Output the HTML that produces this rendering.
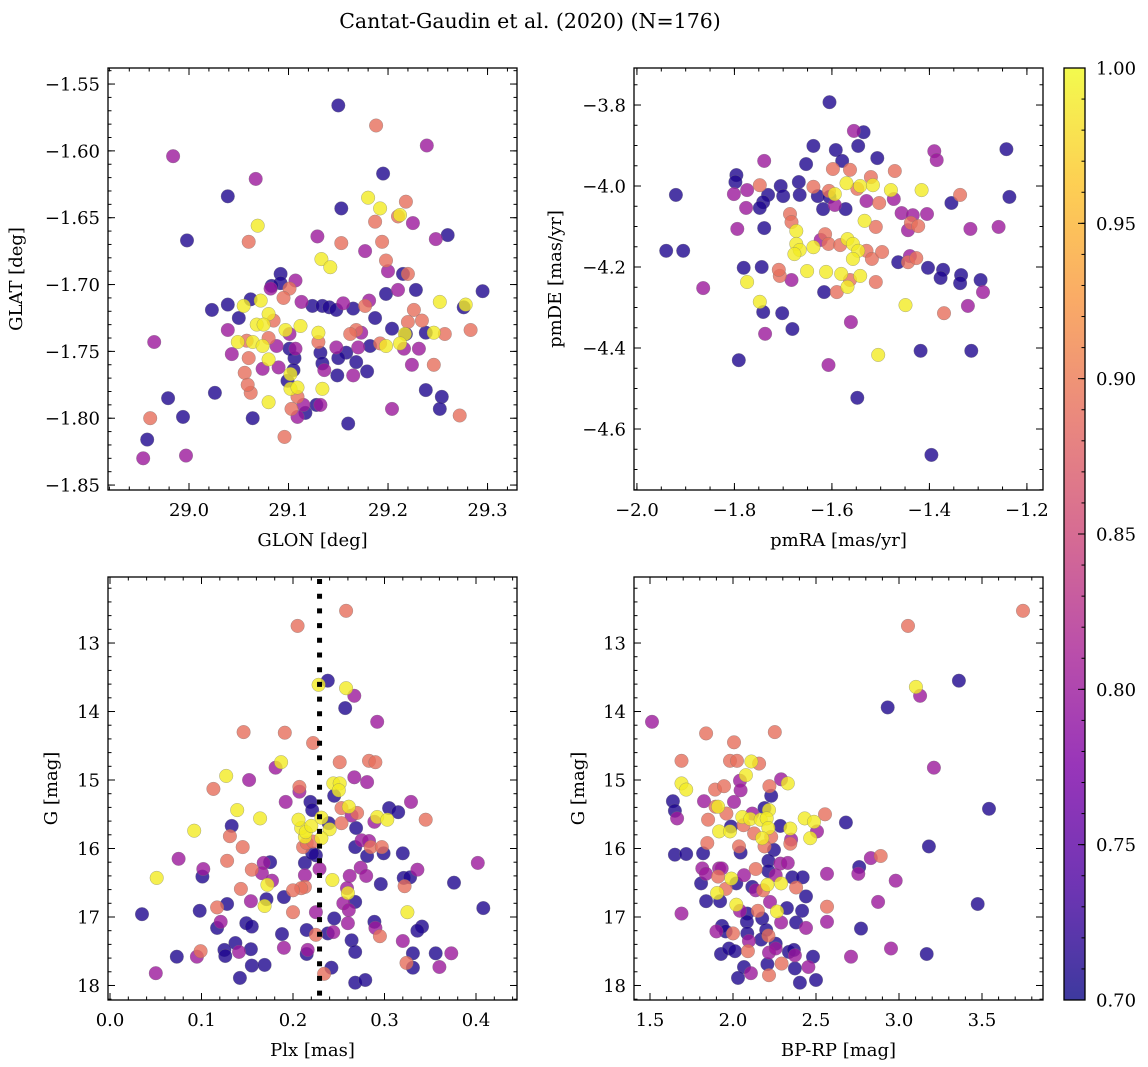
<!DOCTYPE html>
<html><head><meta charset="utf-8"><style>
html,body{margin:0;padding:0;background:#fff;}
svg{display:block;font-family:"DejaVu Serif","Liberation Serif",serif;}
</style></head><body>
<svg id="fig" width="1148" height="1067" viewBox="0 0 1148 1067" xmlns="http://www.w3.org/2000/svg">
<defs>
<linearGradient id="plasmaGrad" x1="0" y1="1" x2="0" y2="0">
<stop offset="0" stop-color="#0d0887"/><stop offset="0.125" stop-color="#4c02a1"/><stop offset="0.25" stop-color="#7e03a8"/><stop offset="0.375" stop-color="#a92395"/><stop offset="0.5" stop-color="#cc4778"/><stop offset="0.625" stop-color="#e56b5d"/><stop offset="0.75" stop-color="#f89540"/><stop offset="0.875" stop-color="#fdc328"/><stop offset="1" stop-color="#f0f921"/>
</linearGradient>
</defs>
<text x="530" y="28" text-anchor="middle" font-size="20.5">Cantat-Gaudin et al. (2020) (N=176)</text>
</svg>
<script>
// ---------- Panel 1: GLON vs GLAT ----------
const glon = [29.150,29.188,29.239,28.984,29.195,29.067,29.180,29.153,29.192,29.210,
29.069,29.129,29.187,29.212,29.218,29.225,29.260,29.248,29.153,29.194,
29.039,28.998,29.060,29.133,29.142,29.177,29.198,29.200,29.215,29.220,
29.092,29.092,29.083,29.101,29.107,29.082,29.095,29.113,29.124,29.134,
29.141,29.148,29.155,29.165,29.177,29.181,29.198,29.210,29.228,29.252,
29.276,29.295,29.278,29.226,29.023,29.039,29.055,29.050,29.062,29.072,
29.080,29.068,29.075,29.085,29.097,29.101,29.112,29.130,29.130,29.039,
29.080,29.058,29.049,29.064,29.074,29.088,29.101,29.107,29.060,29.080,
29.074,29.056,29.043,29.132,29.168,29.162,29.173,29.187,29.192,29.204,
29.220,29.234,29.217,29.238,29.257,29.283,29.212,29.218,29.246,29.148,
29.158,29.170,29.182,29.198,29.216,29.231,29.150,29.168,29.179,29.165,
29.149,29.224,29.246,29.134,29.136,29.106,29.105,29.099,29.102,29.109,
29.109,29.115,29.090,29.102,29.134,29.128,29.132,29.117,29.109,29.062,
29.059,29.080,29.103,29.160,29.204,29.238,29.254,29.252,29.272,
28.961,28.958,28.954,28.997,28.994,28.979,28.965,29.026,29.064,29.096];
const glat = [-1.566,-1.581,-1.596,-1.604,-1.617,-1.621,-1.635,-1.643,-1.643,-1.649,
-1.656,-1.664,-1.653,-1.648,-1.638,-1.654,-1.663,-1.666,-1.669,-1.668,
-1.634,-1.667,-1.668,-1.681,-1.687,-1.675,-1.682,-1.690,-1.692,-1.692,
-1.692,-1.699,-1.701,-1.703,-1.697,-1.703,-1.710,-1.713,-1.716,-1.716,
-1.717,-1.719,-1.714,-1.718,-1.716,-1.712,-1.707,-1.704,-1.704,-1.713,
-1.717,-1.705,-1.715,-1.719,-1.719,-1.715,-1.716,-1.725,-1.711,-1.712,
-1.722,-1.730,-1.730,-1.727,-1.734,-1.737,-1.731,-1.736,-1.743,-1.734,
-1.740,-1.742,-1.743,-1.743,-1.746,-1.746,-1.748,-1.748,-1.755,-1.756,
-1.763,-1.766,-1.752,-1.751,-1.734,-1.737,-1.736,-1.725,-1.744,-1.733,
-1.728,-1.727,-1.737,-1.736,-1.737,-1.734,-1.744,-1.737,-1.736,-1.747,
-1.751,-1.747,-1.746,-1.746,-1.748,-1.748,-1.755,-1.758,-1.765,-1.768,
-1.768,-1.760,-1.760,-1.759,-1.764,-1.755,-1.764,-1.772,-1.778,-1.777,
-1.784,-1.790,-1.762,-1.767,-1.778,-1.790,-1.790,-1.796,-1.799,-1.781,
-1.775,-1.788,-1.793,-1.804,-1.793,-1.779,-1.784,-1.793,-1.798,
-1.800,-1.816,-1.830,-1.828,-1.799,-1.785,-1.743,-1.781,-1.800,-1.814];
const prob1 = [.71,.89,.80,.80,.71,.80,.99,.71,.99,.89,
.99,.80,.89,.99,.89,.80,.71,.80,.89,.89,
.71,.71,.89,.99,.99,.80,.89,.80,.71,.89,
.71,.71,.71,.89,.80,.80,.89,.80,.71,.71,
.71,.71,.80,.71,.89,.80,.71,.80,.71,.99,
.71,.71,.99,.89,.71,.71,.99,.71,.71,.99,
.99,.99,.99,.89,.99,.80,.99,.99,.89,.80,
.89,.89,.99,.99,.99,.80,.71,.80,.89,.99,
.80,.89,.80,.71,.89,.89,.80,.71,.89,.71,
.89,.89,.99,.71,.89,.89,.99,.71,.99,.80,
.71,.80,.71,.99,.80,.80,.71,.71,.71,.80,
.71,.80,.89,.71,.80,.71,.71,.71,.99,.99,
.89,.80,.80,.99,.99,.71,.80,.71,.80,.89,
.89,.99,.89,.71,.80,.71,.71,.71,.89,
.89,.71,.80,.80,.71,.71,.80,.71,.71,.89];

// ---------- Panel 2: pmRA vs pmDE ----------
const pmra = [-1.605,-1.242,-1.638,-1.555,-1.535,-1.592,-1.546,-1.507,-1.579,-1.390,
-1.385,-1.739,-1.653,-1.598,-1.563,-1.520,-1.471,-1.236,-1.542,-1.570,
-1.516,-1.479,-1.548,-1.606,-1.638,-1.668,-1.666,-1.705,-1.748,-1.774,
-1.796,-1.798,-1.731,-1.741,-1.748,-1.700,-1.776,-1.801,-1.629,-1.594,
-1.605,-1.594,-1.618,-1.572,-1.529,-1.503,-1.473,-1.416,-1.457,-1.434,
-1.405,-1.337,-1.355,-1.438,-1.423,-1.444,-1.533,-1.510,-1.316,-1.258,
-1.794,-1.739,-1.686,-1.683,-1.673,-1.673,-1.666,-1.677,-1.638,-1.623,
-1.614,-1.607,-1.583,-1.568,-1.557,-1.546,-1.557,-1.529,-1.518,-1.497,
-1.464,-1.440,-1.444,-1.427,-1.403,-1.372,-1.335,-1.295,-1.337,-1.290,
-1.377,-1.781,-1.744,-1.707,-1.683,-1.709,-1.651,-1.612,-1.581,-1.568,
-1.563,-1.616,-1.590,-1.510,-1.542,-1.774,-1.748,-1.741,-1.702,-1.864,
-1.791,-1.737,-1.681,-1.561,-1.505,-1.449,-1.370,-1.321,-1.418,-1.314,
-1.607,-1.548,-1.396,-1.940,-1.905,-1.920];
const pmde = [-3.793,-3.909,-3.901,-3.864,-3.867,-3.911,-3.901,-3.931,-3.938,-3.914,
-3.936,-3.938,-3.946,-3.958,-3.960,-3.978,-3.963,-4.027,-4.000,-3.993,
-3.998,-4.010,-4.007,-4.012,-4.002,-3.990,-4.022,-4.000,-3.998,-4.010,
-3.973,-3.990,-4.022,-4.040,-4.054,-4.025,-4.054,-4.020,-4.025,-4.020,
-4.027,-4.047,-4.057,-4.057,-4.037,-4.042,-4.032,-4.010,-4.067,-4.072,
-4.069,-4.022,-4.042,-4.091,-4.099,-4.109,-4.086,-4.101,-4.106,-4.101,
-4.106,-4.104,-4.069,-4.089,-4.111,-4.143,-4.158,-4.168,-4.151,-4.133,
-4.119,-4.143,-4.146,-4.131,-4.143,-4.160,-4.180,-4.160,-4.180,-4.163,
-4.188,-4.173,-4.188,-4.178,-4.202,-4.207,-4.220,-4.232,-4.240,-4.262,
-4.227,-4.202,-4.200,-4.222,-4.232,-4.207,-4.210,-4.212,-4.217,-4.249,
-4.232,-4.262,-4.262,-4.237,-4.222,-4.237,-4.286,-4.311,-4.314,-4.252,
-4.430,-4.365,-4.353,-4.336,-4.417,-4.294,-4.314,-4.296,-4.407,-4.407,
-4.442,-4.523,-4.664,-4.160,-4.160,-4.022];
const prob2 = [.71,.71,.71,.80,.71,.71,.71,.71,.71,.80,
.80,.80,.71,.89,.89,.89,.89,.71,.99,.99,
.99,.99,.89,.89,.89,.71,.71,.71,.89,.80,
.71,.71,.71,.71,.71,.71,.80,.80,.71,.99,
.71,.80,.71,.71,.80,.89,.80,.99,.80,.80,
.80,.89,.71,.89,.89,.80,.99,.89,.80,.80,
.80,.71,.89,.89,.99,.99,.99,.99,.99,.80,
.89,.89,.89,.99,.99,.99,.99,.89,.89,.89,
.71,.80,.89,.89,.71,.71,.71,.71,.71,.80,
.71,.71,.71,.89,.80,.89,.99,.99,.99,.99,
.89,.71,.89,.89,.99,.99,.99,.71,.71,.80,
.71,.80,.71,.80,.99,.99,.89,.80,.71,.71,
.80,.71,.71,.71,.71,.71];

// ---------- Panel 3: Plx vs G ----------
const plx = [.146,.191,.222,.187,.181,.127,.152,.113,.207,.207,
.219,.221,.192,.139,.164,.092,.133,.131,.145,.075,
.128,.175,.168,.102,.101,.155,.166,.051,.172,.177,
.143,.190,.171,.169,.154,.128,.098,.117,.035,.200,
.121,.149,.155,.117,.188,.215,.225,.137,.154,.125,
.141,.099,.126,.190,.216,.215,.073,.095,.155,.169,
.050,.142,.225,.213,.209,.200,.213,.213,.225,.229,
.211,.213,.209,.214,.206,.220,.231,.215,.222,.221,
.234,.205,
.258,.238,.228,.258,.267,.257,.292,.251,.283,.290,
.267,.281,.244,.251,.250,.245,.329,.261,.253,.270,
.264,.305,.315,.292,.289,.303,.345,.253,.239,.240,
.269,.231,.275,.283,.268,.285,.297,.281,.299,.320,
.402,.336,.274,.262,.280,.321,.328,.296,.376,.322,
.243,.259,.260,.268,.255,.261,.408,.325,.245,.260,
.289,.290,.244,.238,.295,.341,.336,.320,.264,.268,
.331,.356,.373,.324,.331,.360,.242,.268,.279];
const gmag3 = [14.30,14.31,14.46,14.74,14.82,14.94,15.00,15.13,15.10,15.17,
15.32,15.44,15.32,15.44,15.56,15.74,15.67,15.82,15.98,16.15,
16.18,16.20,16.21,16.30,16.41,16.31,16.36,16.43,16.53,16.47,
16.59,16.71,16.74,16.84,16.77,16.81,16.91,16.86,16.96,16.93,
17.07,17.09,17.14,17.16,17.25,17.19,17.26,17.38,17.47,17.48,
17.51,17.50,17.57,17.45,17.48,17.54,17.58,17.58,17.71,17.70,
17.82,17.89,16.93,16.56,16.58,16.61,16.39,16.21,16.10,16.30,
15.98,15.83,15.70,15.76,15.58,15.67,15.55,15.92,15.90,16.07,
17.83,12.75,
12.53,13.55,13.61,13.66,13.77,13.95,14.15,14.74,14.72,14.74,
14.96,15.03,15.05,15.05,15.15,15.23,15.32,15.39,15.41,15.48,
15.52,15.41,15.47,15.54,15.61,15.58,15.58,15.63,15.63,15.72,
15.70,15.85,15.88,15.89,15.98,15.98,15.98,16.11,16.07,16.07,
16.21,16.31,16.28,16.40,16.40,16.43,16.42,16.52,16.50,16.55,
16.46,16.58,16.65,16.78,16.80,16.90,16.87,16.93,17.02,17.09,
17.07,17.16,17.22,17.24,17.28,17.14,17.20,17.35,17.34,17.51,
17.53,17.53,17.53,17.67,17.74,17.73,17.74,17.96,17.92];
const prob3 = [.89,.89,.89,.99,.80,.99,.80,.89,.89,.80,
.71,.71,.80,.99,.99,.99,.71,.89,.89,.80,
.89,.71,.80,.80,.71,.89,.80,.99,.99,.80,
.89,.71,.71,.99,.80,.71,.71,.89,.71,.89,
.80,.71,.71,.71,.71,.71,.89,.71,.71,.71,
.80,.89,.71,.80,.80,.71,.71,.80,.71,.71,
.80,.71,.80,.89,.89,.89,.80,.71,.71,.80,
.89,.99,.99,.99,.99,.99,.99,.89,.89,.71,
.89,.89,
.89,.71,.99,.99,.80,.71,.80,.89,.89,.89,
.80,.80,.99,.99,.99,.71,.80,.99,.89,.89,
.80,.71,.71,.99,.80,.99,.89,.89,.71,.99,
.71,.99,.80,.80,.71,.89,.89,.71,.71,.71,
.80,.80,.80,.80,.80,.71,.71,.71,.71,.89,
.99,.80,.99,.71,.80,.80,.71,.99,.71,.80,
.71,.80,.80,.71,.89,.71,.71,.80,.71,.71,
.71,.71,.80,.89,.71,.80,.71,.71,.71];

// ---------- Panel 4: BP-RP vs G ----------
const bprp = [1.512,1.838,2.252,2.006,1.690,1.982,2.024,2.110,2.157,2.078,
2.042,2.046,1.690,1.718,1.892,1.946,2.290,2.330,2.219,2.230,
1.638,1.650,1.663,1.825,2.006,1.910,1.895,1.960,1.850,2.190,
2.217,2.056,2.104,2.167,2.203,2.116,2.213,1.988,1.916,1.982,
2.063,2.285,2.345,2.432,2.488,2.554,2.680,2.506,2.465,2.127,
2.176,2.230,2.350,2.345,1.845,2.036,2.046,2.190,2.247,1.650,
1.718,1.820,2.213,2.285,2.330,2.760,2.566,2.755,1.815,1.837,
1.916,1.932,1.910,1.990,2.020,2.066,2.137,2.213,2.257,2.357,
2.420,1.808,1.904,1.956,2.116,2.137,2.182,2.207,2.290,2.380,
2.440,1.838,1.922,2.020,2.042,2.223,2.265,2.325,2.416,2.566,
2.566,1.690,2.086,2.084,2.150,2.176,2.290,2.380,2.440,1.900,
1.934,1.956,2.000,2.086,2.096,2.170,2.200,2.213,2.257,1.928,
1.976,2.012,2.090,2.217,2.257,2.337,2.367,2.373,2.482,2.711,
2.207,2.293,2.454,2.066,2.108,2.030,2.217,2.373,2.403,2.500,
3.747,3.054,3.361,3.102,3.127,2.932,3.210,3.542,3.180,2.890,
2.830,2.980,2.874,3.474,2.771,2.952,3.167];
const gmag4 = [14.15,14.32,14.30,14.45,14.72,14.72,14.72,14.73,14.76,14.93,
15.01,15.15,15.05,15.14,15.14,15.09,14.99,15.05,15.09,15.23,
15.31,15.45,15.56,15.31,15.32,15.39,15.39,15.49,15.58,15.41,
15.44,15.54,15.57,15.58,15.56,15.49,15.70,15.68,15.75,15.75,
15.66,15.67,15.71,15.56,15.61,15.50,15.62,15.75,15.85,15.78,
15.85,15.83,15.87,15.93,15.92,15.97,16.06,15.97,16.02,16.09,
16.08,16.07,16.18,16.22,16.21,16.27,16.37,16.37,16.29,16.37,
16.29,16.29,16.41,16.44,16.51,16.39,16.30,16.33,16.39,16.42,
16.42,16.51,16.65,16.59,16.56,16.61,16.61,16.53,16.51,16.57,
16.70,16.77,16.77,16.82,16.91,16.78,16.92,16.87,16.91,16.85,
17.07,16.95,16.95,17.07,16.91,17.02,17.08,17.08,17.16,17.21,
17.13,17.21,17.24,17.24,17.35,17.33,17.19,17.27,17.39,17.54,
17.46,17.50,17.50,17.52,17.46,17.51,17.48,17.56,17.58,17.58,
17.69,17.68,17.73,17.73,17.82,17.89,17.85,17.75,17.96,17.92,
12.53,12.75,13.55,13.64,13.77,13.94,14.82,15.42,15.97,16.11,
16.14,16.47,16.78,16.81,17.17,17.46,17.54];
const prob4 = [.80,.89,.89,.89,.89,.89,.89,.99,.89,.99,
.80,.80,.99,.99,.89,.89,.80,.99,.89,.71,
.71,.71,.80,.80,.80,.99,.89,.89,.89,.71,
.99,.99,.99,.99,.99,.80,.99,.71,.99,.99,
.89,.71,.99,.99,.99,.89,.71,.80,.99,.89,
.99,.89,.80,.89,.89,.89,.71,.89,.71,.71,
.71,.71,.71,.80,.80,.71,.80,.80,.80,.80,
.80,.80,.89,.99,.71,.80,.89,.71,.80,.71,
.71,.71,.99,.89,.71,.80,.89,.99,.99,.89,
.71,.71,.71,.99,.80,.80,.99,.71,.71,.89,
.80,.80,.71,.71,.89,.71,.80,.71,.80,.80,
.71,.71,.89,.71,.80,.71,.71,.89,.71,.71,
.71,.71,.89,.80,.80,.71,.71,.80,.71,.80,
.71,.89,.80,.71,.80,.71,.89,.71,.71,.71,
.89,.89,.71,.99,.80,.71,.80,.71,.71,.89,
.80,.80,.80,.71,.71,.80,.71];

// ---------- Axis tick values ----------
const p1XTicks = [29.0,29.1,29.2,29.3];
const p1YTicks = [-1.55,-1.60,-1.65,-1.70,-1.75,-1.80,-1.85];
const p2XTicks = [-2.0,-1.8,-1.6,-1.4,-1.2];
const p2YTicks = [-3.8,-4.0,-4.2,-4.4,-4.6];
const p3XTicks = [0.0,0.1,0.2,0.3,0.4];
const gTicks = [13,14,15,16,17,18];
const p4XTicks = [1.5,2.0,2.5,3.0,3.5];
const cbTicks = [0.70,0.75,0.80,0.85,0.90,0.95,1.00];
const plxCut = [0.229];
const cbRange = [0.70,1.00];

const NS = "http://www.w3.org/2000/svg";
const svg = document.getElementById('fig');
function mk(tag, attrs, parent){
  const e = document.createElementNS(NS, tag);
  for (const k in attrs) e.setAttribute(k, attrs[k]);
  (parent||svg).appendChild(e);
  return e;
}
const stops = [[0,[13,8,135]],[0.125,[76,2,161]],[0.25,[126,3,168]],[0.375,[169,35,149]],[0.5,[204,71,120]],[0.625,[229,107,93]],[0.75,[248,149,64]],[0.875,[253,195,40]],[1,[240,249,33]]];
function plasma(t){
  t = Math.max(0, Math.min(1, t));
  for (let i=0;i<stops.length-1;i++){
    const a=stops[i], b=stops[i+1];
    if (t<=b[0]){
      const f=(t-a[0])/(b[0]-a[0]);
      const c=a[1].map((v,j)=>Math.round(v+(b[1][j]-v)*f));
      return 'rgb('+c.join(',')+')';
    }
  }
  return 'rgb(240,249,33)';
}
function lin(d0,d1,r0,r1){ return v => r0 + (v-d0)/(d1-d0)*(r1-r0); }
function fmt(v, dec){ const s = Math.abs(v).toFixed(dec); return (v<0?'\u2212':'')+s; }
const FS = 18;

function panel(o){
  const g = mk('g', {});
  
  
  const sx = lin(o.xd[0], o.xd[1], o.box[0], o.box[2]);
  const sy = lin(o.yd[0], o.yd[1], o.box[1], o.box[3]);
  const cid = 'clip-' + o.name;
  const cp = mk('clipPath', {id: cid}, g);
  mk('rect', {x:o.box[0], y:o.box[1], width:o.box[2]-o.box[0], height:o.box[3]-o.box[1]}, cp);
  const pts = mk('g', {'clip-path':'url(#'+cid+')'}, g);
  
  
  const idx = o.x.map((_,i)=>i).sort((a,b)=>o.c[a]-o.c[b]);
  for (const i of idx){
    const c = mk('circle', {cx:sx(o.x[i]).toFixed(1), cy:sy(o.y[i]).toFixed(1), r:6.8, fill:plasma((o.c[i]-cbRange[0])/(cbRange[1]-cbRange[0])), 'fill-opacity':0.8, stroke:'#777', 'stroke-opacity':0.6, 'stroke-width':0.5}, pts);
    
    
  }
  if (o.extra) o.extra(g, sx, sy);
  const [x0,y0,x1,y1] = o.box;
  const tk = mk('g', {stroke:'#000', 'stroke-width':1}, g);
  
  
  const xlo = Math.min(o.xd[0],o.xd[1]), xhi = Math.max(o.xd[0],o.xd[1]);
  for (let v=Math.ceil(xlo/o.xm-1e-6)*o.xm; v<=xhi+1e-9; v+=o.xm){
    const X = sx(v);
    mk('line',{x1:X,y1:y1,x2:X,y2:y1-3.5},tk); mk('line',{x1:X,y1:y0,x2:X,y2:y0+3.5},tk);
  }
  const ylo = Math.min(o.yd[0],o.yd[1]), yhi = Math.max(o.yd[0],o.yd[1]);
  for (let v=Math.ceil(ylo/o.ym-1e-6)*o.ym; v<=yhi+1e-9; v+=o.ym){
    const Y = sy(v);
    mk('line',{x1:x0,y1:Y,x2:x0+3.5,y2:Y},tk); mk('line',{x1:x1,y1:Y,x2:x1-3.5,y2:Y},tk);
  }
  for (const v of o.xt){
    const X = sx(v);
    mk('line',{x1:X,y1:y1,x2:X,y2:y1-7},tk); mk('line',{x1:X,y1:y0,x2:X,y2:y0+7},tk);
    const t = mk('text',{x:X, y:y1+26, 'text-anchor':'middle', 'font-size':FS}, g);
    t.textContent = fmt(v, o.xdec);
    
    
  }
  for (const v of o.yt){
    const Y = sy(v);
    mk('line',{x1:x0,y1:Y,x2:x0+7,y2:Y},tk); mk('line',{x1:x1,y1:Y,x2:x1-7,y2:Y},tk);
    const t = mk('text',{x:x0-8, y:Y+6.5, 'text-anchor':'end', 'font-size':FS}, g);
    t.textContent = fmt(v, o.ydec);
    
    
  }
  const fr = mk('rect',{x:x0,y:y0,width:x1-x0,height:y1-y0,fill:'none',stroke:'#000','stroke-width':1.3}, g);
  
  
  const xl = mk('text',{x:(x0+x1)/2, y:y1+56, 'text-anchor':'middle','font-size':FS}, g);
  xl.textContent = o.xlab;
  
  
  const yl = mk('text',{x:0, y:0, 'text-anchor':'middle','font-size':FS, transform:'translate('+o.ylx+','+((y0+y1)/2)+') rotate(-90)'}, g);
  yl.textContent = o.ylab;
  
  
}

panel({name:'glon-glat-panel', box:[108,68,517,490], xd:[28.9186,29.3296], yd:[-1.5380,-1.8537],
  x:glon, y:glat, c:prob1, xt:p1XTicks, yt:p1YTicks, xm:0.02, ym:0.01, xdec:1, ydec:2,
  xlab:'GLON [deg]', ylab:'GLAT [deg]', ylx:22});
panel({name:'pm-panel', box:[634,68,1043,490], xd:[-2.006,-1.167], yd:[-3.7086,-4.7506],
  x:pmra, y:pmde, c:prob2, xt:p2XTicks, yt:p2YTicks, xm:0.05, ym:0.05, xdec:1, ydec:1,
  xlab:'pmRA [mas/yr]', ylab:'pmDE [mas/yr]', ylx:561});
panel({name:'plx-g-panel', box:[108,577,517,1000], xd:[-0.0022,0.4448], yd:[12.036,18.212],
  x:plx, y:gmag3, c:prob3, xt:p3XTicks, yt:gTicks, xm:0.02, ym:0.2, xdec:1, ydec:0,
  xlab:'Plx [mas]', ylab:'G [mag]', ylx:57,
  extra:(g,sx,sy)=>{
    const l = mk('line',{x1:sx(plxCut[0]),x2:sx(plxCut[0]),y1:579,y2:1000,stroke:'#000','stroke-width':5,'stroke-dasharray':'5 9.7'}, g);
    
    
  }});
panel({name:'cmd-panel', box:[634,577,1043,1000], xd:[1.4036,3.8675], yd:[12.036,18.212],
  x:bprp, y:gmag4, c:prob4, xt:p4XTicks, yt:gTicks, xm:0.1, ym:0.2, xdec:1, ydec:0,
  xlab:'BP-RP [mag]', ylab:'G [mag]', ylx:584});

// ---------- Colorbar ----------
(function(){
  const cb = mk('g', {});
  
  
  const x0=1064, x1=1085, y0=68, y1=1000;
  const sy = lin(cbRange[0], cbRange[1], y1, y0);
  mk('rect',{x:x0,y:y0,width:x1-x0,height:y1-y0,fill:'url(#plasmaGrad)','fill-opacity':0.8}, cb);
  mk('rect',{x:x0,y:y0,width:x1-x0,height:y1-y0,fill:'none',stroke:'#000','stroke-width':1.3}, cb);
  for (let v=cbRange[0]; v<=cbRange[1]+1e-9; v+=0.01){
    mk('line',{x1:x1,x2:x1-3.5,y1:sy(v),y2:sy(v),stroke:'#000','stroke-width':1}, cb);
  }
  for (const v of cbTicks){
    const Y = sy(v);
    mk('line',{x1:x1,x2:x1-7,y1:Y,y2:Y,stroke:'#000','stroke-width':1}, cb);
    const t = mk('text',{x:x1+11, y:Y+6.5, 'font-size':FS}, cb);
    t.textContent = v.toFixed(2);
    
    
  }
})();
</script>
</body></html>
